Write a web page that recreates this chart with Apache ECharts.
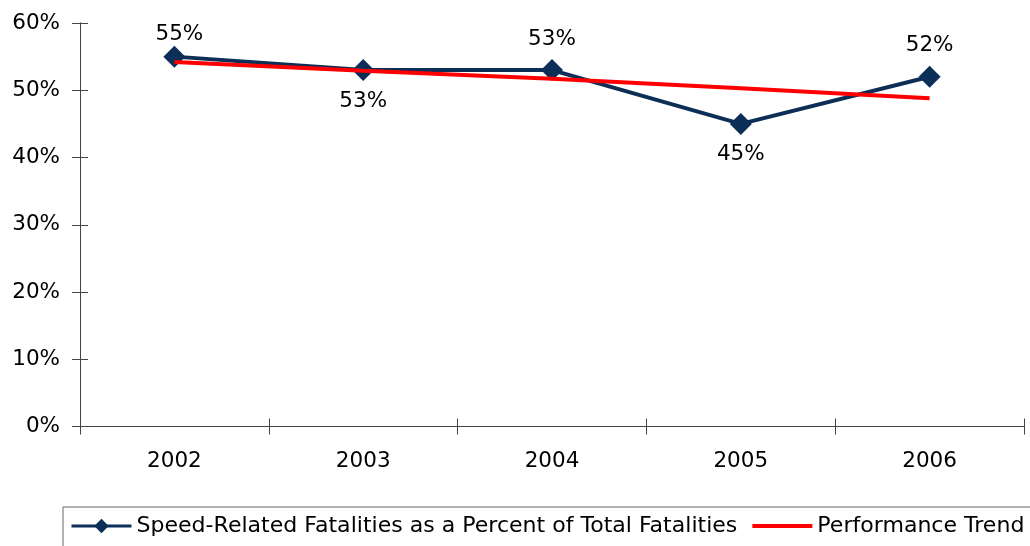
<!DOCTYPE html>
<html>
<head>
<meta charset="utf-8">
<script src="https://cdn.jsdelivr.net/npm/echarts@6/dist/echarts.min.js"></script>
<style>
  html, body { margin: 0; padding: 0; background: #fff; }
  #chart { width: 1030px; height: 546px; }
</style>
</head>
<body>
<div id="chart"></div>
<script>
// Speed-related fatalities as a share of all fatalities, 2002-2006
const years = ['2002', '2003', '2004', '2005', '2006'];
const speedShare = [55, 53, 53, 45, 52];            // percent
const trendShare = [54.2, 52.9, 51.7, 50.3, 48.8];   // percent, performance trend
const yTicks = { min: 0, max: 60, interval: 10 };

// where each point's value label sits relative to its marker
const labelSide = ['top', 'bottom', 'top', 'bottom', 'top'];

const FONT = 'DejaVu Sans';
const TXT = 21.5;
const NAVY = '#0c2e57';
const AXIS = '#444';
const SPEED_NAME = 'Speed-Related Fatalities as a Percent of Total Fatalities';
const TREND_NAME = 'Performance Trend';

const chart = echarts.init(document.getElementById('chart'), null, { renderer: 'canvas' });

const speedData = speedShare.map((v, i) => ({
  value: v,
  label: {
    position: labelSide[i],
    distance: i === 0 ? 0 : 9,
    offset: i === 0 ? [5, 0] : [0, 0]
  }
}));

// tick marks cross the axis line: the outer half belongs to the main axes,
// the inner half to twin axes laid on an identical second grid
const tickStyle = { color: AXIS, width: 1 };
const plotBox = { left: 80, right: 6, top: 23, bottom: 119.5, containLabel: false };

chart.setOption({
  animation: false,
  textStyle: { fontFamily: FONT },
  grid: [Object.assign({}, plotBox), Object.assign({}, plotBox)],
  legend: {
    left: 63,
    top: 507,
    width: 1100,
    padding: [8, 14, 20, 7],
    borderColor: '#666',
    borderWidth: 1,
    itemWidth: 60,
    itemHeight: 18,
    itemGap: 13,
    textStyle: { fontFamily: FONT, fontSize: 22.05, color: '#000' },
    data: [
      { name: SPEED_NAME, lineStyle: { width: 3 } },
      { name: TREND_NAME, lineStyle: { width: 4 }, itemStyle: { opacity: 0 } }
    ]
  },
  xAxis: [
    {
      type: 'category',
      gridIndex: 0,
      data: years,
      boundaryGap: true,
      axisLine: { lineStyle: { color: AXIS, width: 1 } },
      axisTick: { show: true, inside: false, length: 8, lineStyle: tickStyle },
      axisLabel: { color: '#000', fontFamily: FONT, fontSize: TXT, margin: 24 },
      splitLine: { show: false }
    },
    {
      type: 'category',
      gridIndex: 1,
      data: years,
      boundaryGap: true,
      axisLine: { show: true, lineStyle: { color: AXIS, width: 1 } },
      axisTick: { show: true, inside: true, length: 8, lineStyle: tickStyle },
      axisLabel: { show: false },
      splitLine: { show: false }
    }
  ],
  yAxis: [
    {
      type: 'value',
      gridIndex: 0,
      min: yTicks.min,
      max: yTicks.max,
      interval: yTicks.interval,
      axisLine: { show: true, lineStyle: { color: AXIS, width: 1 } },
      axisTick: { show: true, inside: false, length: 8, lineStyle: tickStyle },
      axisLabel: { color: '#000', fontFamily: FONT, fontSize: TXT, margin: 20, formatter: '{value}%' },
      splitLine: { show: false }
    },
    {
      type: 'value',
      gridIndex: 1,
      min: yTicks.min,
      max: yTicks.max,
      interval: yTicks.interval,
      axisLine: { show: true, lineStyle: { color: AXIS, width: 1 } },
      axisTick: { show: true, inside: true, length: 8, lineStyle: tickStyle },
      axisLabel: { show: false },
      splitLine: { show: false }
    }
  ],
  series: [
    {
      name: SPEED_NAME,
      type: 'line',
      xAxisIndex: 0,
      yAxisIndex: 0,
      data: speedData,
      symbol: 'diamond',
      symbolSize: 22,
      lineStyle: { color: NAVY, width: 4 },
      itemStyle: { color: NAVY },
      label: {
        show: true,
        color: '#000',
        fontFamily: FONT,
        fontSize: TXT,
        formatter: p => Math.round(p.value) + '%'
      },
      z: 2
    },
    {
      name: TREND_NAME,
      type: 'line',
      xAxisIndex: 0,
      yAxisIndex: 0,
      data: trendShare,
      symbol: 'none',
      lineStyle: { color: '#ff0000', width: 4 },
      itemStyle: { color: '#ff0000' },
      z: 3
    }
  ]
});
</script>
</body>
</html>
